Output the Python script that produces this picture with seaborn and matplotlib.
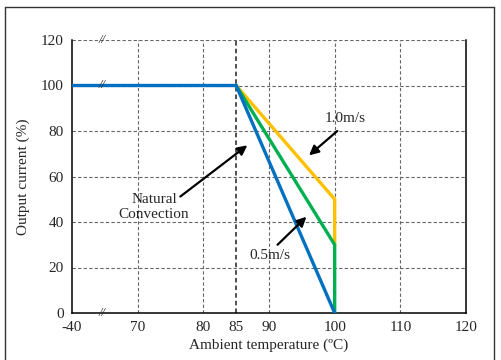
import matplotlib
matplotlib.use('Agg')
import matplotlib.pyplot as plt
from matplotlib.lines import Line2D
import seaborn as sns
import pandas as pd

# Derating curves (temperature in degC, output current in %)
temp_natural = [-40, 85, 100]
curr_natural = [100, 100, 0]
temp_05 = [85, 100, 100]
curr_05 = [100, 30, 0]
temp_10 = [85, 100, 100]
curr_10 = [100, 50, 30]

series_names = ["1.0m/s", "0.5m/s", "Natural Convection"]
series_colors = ["#FFC000", "#00B050", "#0070C0"]

x_ticks = [-40, 70, 80, 85, 90, 100, 110, 120]
y_ticks = [0, 20, 40, 60, 80, 100, 120]


def to_axis(t):
    # broken axis: -40 sits one grid step left of 70
    return t if t >= 70 else 60


rows = []
for name, xs, ys in [("1.0m/s", temp_10, curr_10),
                     ("0.5m/s", temp_05, curr_05),
                     ("Natural Convection", temp_natural, curr_natural)]:
    for i, (x, y) in enumerate(zip(xs, ys)):
        rows.append({"series": name, "pos": to_axis(x), "current": y, "order": i})
df = pd.DataFrame(rows)

sns.set_style("white")
plt.rcParams['font.family'] = ['Liberation Serif', 'DejaVu Serif']

fig = plt.figure(figsize=(5.01, 3.6), dpi=100)
ax = fig.add_axes([72 / 501, 1 - 313 / 360, (466 - 72) / 501, (313 - 40) / 360])

# grid
for y in y_ticks[1:]:
    ax.axhline(y, color='#666666', lw=0.8, ls=(0, (3, 2)), zorder=1)
for t in [70, 80, 90, 100, 110]:
    ax.axvline(t, color='#666666', lw=0.8, ls=(0, (3, 2)), zorder=1)
ax.axvline(85, color='#222222', lw=1.1, ls=(0, (3, 2)), zorder=1)

sns.lineplot(data=df, x="pos", y="current", hue="series", units="series",
             estimator=None, sort=False, palette=dict(zip(series_names, series_colors)),
             hue_order=series_names, lw=2.4, legend=False, ax=ax, zorder=3)
for line in ax.lines[-3:]:
    line.set_solid_joinstyle('miter')

ax.set_xlim(60, 120)
ax.set_ylim(0, 120)
ax.set_xticks([to_axis(t) for t in x_ticks])
ax.set_xticklabels([str(t) for t in x_ticks])
ax.set_yticks(y_ticks)
ax.tick_params(axis='both', length=0, labelsize=11, pad=6)
ax.set_xlabel("Ambient temperature (ºC)", fontsize=11, labelpad=3)
ax.set_ylabel("Output current (%)", fontsize=11, labelpad=8)

for side in ['left', 'bottom', 'right']:
    ax.spines[side].set_color('black')
    ax.spines[side].set_linewidth(1.1)
ax.spines['top'].set_visible(False)

# axis break marks
for y in [120, 100, 0]:
    ax.text(64.6, y, "//", fontsize=9, style='italic', ha='center', va='center',
            zorder=5, clip_on=False)

# annotations
arrow = dict(arrowstyle='-|>', color='black', lw=1.6, mutation_scale=14,
             shrinkA=0, shrinkB=0)
ax.text(101.6, 85.3, "1.0m/s", fontsize=11, ha='center', va='center')
ax.annotate("", xy=(96.1, 69.3), xytext=(100.4, 80.0), arrowprops=arrow)
ax.text(72.5, 46.5, "Natural\nConvection", fontsize=11, ha='center', va='center',
        linespacing=1.15)
ax.annotate("", xy=(86.7, 73.7), xytext=(76.5, 51.2), arrowprops=arrow)
ax.text(90.2, 25.1, "0.5m/s", fontsize=11, ha='center', va='center')
ax.annotate("", xy=(95.7, 42.3), xytext=(91.3, 30.0), arrowprops=arrow)

# outer frame
fx0, fx1, fy1 = 5 / 501, 494 / 501, 1 - 7 / 360
for xs, ys in [([fx0, fx0], [0, fy1]), ([fx0, fx1], [fy1, fy1]), ([fx1, fx1], [fy1, 0])]:
    fig.add_artist(Line2D(xs, ys, color='#333333', lw=1.0, transform=fig.transFigure))

fig.savefig("out.png", dpi=100)
